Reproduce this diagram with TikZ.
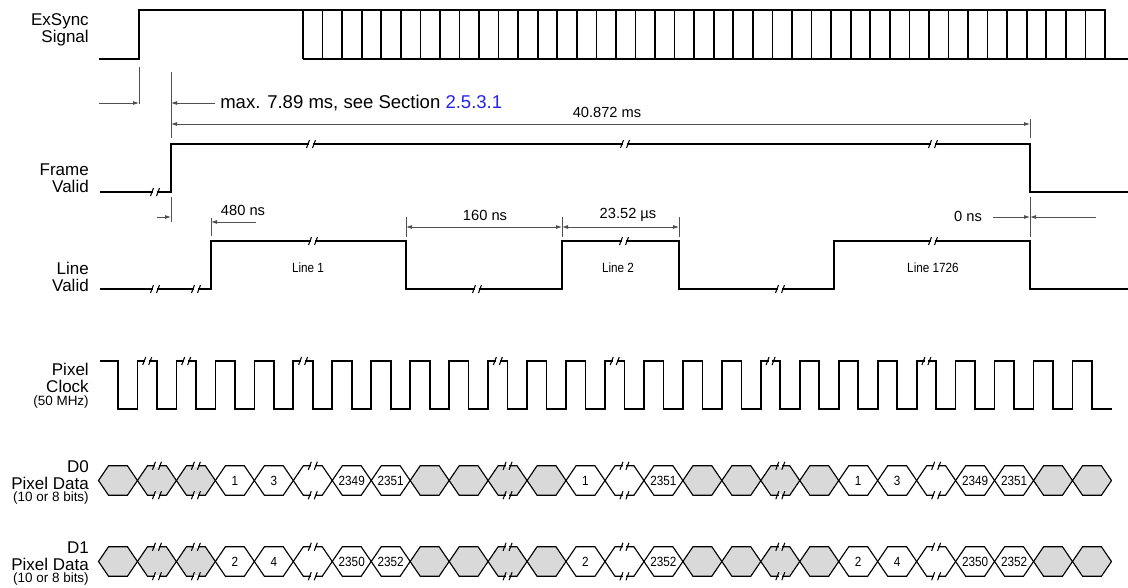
\documentclass[tikz,border=0pt]{standalone}
\usepackage{fontspec}
\setmainfont{Liberation Sans}
\newfontfamily\narrowfont[FakeStretch=0.88]{Liberation Sans}
\usetikzlibrary{arrows.meta}
\definecolor{cellgray}{RGB}{217,217,217}
\definecolor{dimgray}{RGB}{80,80,80}
\definecolor{linkblue}{RGB}{35,35,240}
\tikzset{
  sig/.style={line width=1.25pt, line join=miter},
  hex/.style={line width=0.85pt, line join=miter},
  dim/.style={line width=0.6pt, dimgray},
  dimarr/.style={dim, -{Latex[length=4.5pt,width=3pt]}},
  dimboth/.style={dim, {Latex[length=4.5pt,width=3pt]}-{Latex[length=4.5pt,width=3pt]}},
  lbl/.style={anchor=east, align=right, inner sep=0pt, font=\fontsize{12.75}{12.75}\selectfont},
  sublbl/.style={anchor=east, inner sep=0pt, font=\fontsize{10.1}{11}\selectfont},
  note/.style={inner sep=0pt, font=\fontsize{11}{13}\selectfont},
  tag/.style={inner sep=0pt, font=\narrowfont\fontsize{10}{12}\selectfont},
  brk/.pic={
    \fill[white] (-1.8,-1) rectangle (1.8,1);
    \draw[line width=0.8pt] (-4.5,4) -- (-1.5,-4) (1.5,4) -- (4.5,-4);
  }
}
\begin{document}
\begin{tikzpicture}[x=0.75pt,y=-0.75pt]
\useasboundingbox (0,0) rectangle (1128,587);
% signal names
\node[lbl] (exs) at (89,29.5) {ExSync\\Signal};
\node[lbl] (fv) at (89,178) {Frame\\Valid};
\node[lbl] (lv) at (89,277) {Line\\Valid};
\node[lbl] (pc) at (89,378) {Pixel\\Clock};
\node[sublbl] (pcs) at (89,402) {(50 MHz)};
\node[lbl] (dz) at (89,475.5) {D0\\Pixel Data};
\node[sublbl] (dzs) at (89,498.5) {(10 or 8 bits)};
\node[lbl] (do) at (89,556.5) {D1\\Pixel Data};
\node[sublbl] (dos) at (89,579.5) {(10 or 8 bits)};

% ExSync
\draw[sig] (99,59) -- (139,59) -- (139,10) -- (1105,10) -- (1105,59) -- (1128,59);
\draw[sig] (303,59) -- (1105,59);
\foreach \n in {0,...,40}
  \draw[sig] ({303+19.56*\n},10) -- ++(0,49);

% Frame Valid
\draw[sig] (100,192) -- (171,192) -- (171,144) -- (1030,144) -- (1030,192) -- (1128,192);
\foreach \x/\y in {155/192, 311/144, 625/144, 933/144}
  \pic at (\x,\y) {brk};

% Line Valid
\draw[sig] (100,289) -- (211,289) -- (211,241) -- (406,241) -- (406,289)
  -- (562,289) -- (562,241) -- (679,241) -- (679,289)
  -- (834,289) -- (834,241) -- (1030,241) -- (1030,289) -- (1128,289);
\foreach \x/\y in {155/289, 196/289, 313/241, 477/289, 624/241, 780/289, 933/241}
  \pic at (\x,\y) {brk};
\node[tag] (ln1) at (308,268) {Line 1};
\node[tag] (ln2) at (618,268) {Line 2};
\node[tag] (lnz) at (933,268) {Line 1726};

% Pixel Clock
\draw[sig] (100,361) \foreach \k in {0,...,24} {
    -- ({118+38.96*\k},361) -- ({118+38.96*\k},409)
    -- ({137.48+38.96*\k},409) -- ({137.48+38.96*\k},361) }
  -- (1092,361) -- (1092,409) -- (1112,409);
\foreach \k in {1,3,9,19,25,33,41}
  \pic at ({127.74+19.48*\k},361) {brk};

% Pixel Data D0 / D1
\foreach \i/\fl/\br/\numa/\numb in {
    0/cellgray/0/{}/{}, 1/cellgray/1/{}/{}, 2/cellgray/1/{}/{}, 3/white/0/1/2,
    4/white/0/3/4, 5/white/1/{}/{}, 6/white/0/2349/2350, 7/white/0/2351/2352,
    8/cellgray/0/{}/{}, 9/cellgray/0/{}/{}, 10/cellgray/1/{}/{}, 11/cellgray/0/{}/{},
    12/white/0/1/2, 13/white/1/{}/{}, 14/white/0/2351/2352, 15/cellgray/0/{}/{},
    16/cellgray/0/{}/{}, 17/cellgray/1/{}/{}, 18/cellgray/0/{}/{}, 19/white/0/1/2,
    20/white/0/3/4, 21/white/1/{}/{}, 22/white/0/2349/2350, 23/white/0/2351/2352,
    24/cellgray/0/{}/{}, 25/cellgray/0/{}/{}} {
  \pgfmathsetmacro\xa{98.5+38.96*\i}
  \pgfmathsetmacro\xc{\xa+19.48}
  \foreach \yy/\txt/\row in {480.5/\numa/0, 561.5/\numb/1} {
    \filldraw[hex, fill=\fl] (\xa,\yy) -- (\xa+10,\yy-14.7) -- (\xa+28.96,\yy-14.7)
      -- (\xa+38.96,\yy) -- (\xa+28.96,\yy+14.7) -- (\xa+10,\yy+14.7) -- cycle;
    \node[tag] (px\row-\i) at (\xc,\yy) {\txt};
    \ifnum\br=1
      \pic at (\xc,\yy-14.7) {brk};
      \pic at (\xc,\yy+14.7) {brk};
    \fi
  }
}

% timing dimensions
\draw[dim] (139,67) -- (139,104);
\draw[dim] (171,72) -- (171,138);
\draw[dim] (1030,119) -- (1030,138);
\draw[dim] (171,197) -- (171,222);
\draw[dim] (211,218) -- (211,236);
\draw[dim] (406,217) -- (406,237);
\draw[dim] (562,217) -- (562,237);
\draw[dim] (679,217) -- (679,237);
\draw[dim] (1030,197) -- (1030,237);

\coordinate (exa) at (99,103);    \coordinate (exb) at (139,103);
\coordinate (mxa) at (215,103);   \coordinate (mxb) at (171,103);
\coordinate (fra) at (171,124);   \coordinate (frb) at (1030,124);
\coordinate (fla) at (157,217);   \coordinate (flb) at (171,217);
\coordinate (lna) at (256,222);   \coordinate (lnb) at (211,222);
\coordinate (gpa) at (406,227);   \coordinate (gpb) at (562,227);
\coordinate (gpc) at (679,227);
\coordinate (ena) at (993,217);   \coordinate (enb) at (1030,217);
\coordinate (enc) at (1096,217);

\draw[dimarr] (exa) -- (exb);
\draw[dimarr] (mxa) -- (mxb);
\draw[dimboth] (fra) -- (frb);
\draw[dimarr] (fla) -- (flb);
\draw[dimarr] (lna) -- (lnb);
\draw[dimboth] (gpa) -- (gpb);
\draw[dimboth] (gpb) -- (gpc);
\draw[dimarr] (ena) -- (enb);
\draw[dimarr] (enc) -- (enb);

\node[inner sep=0pt, anchor=west, font=\fontsize{13.9}{15}\selectfont] (mxt) at (220,103)
  {max. 7.89 ms, see Section \textcolor{linkblue}{2.5.3.1}};
\node[note] (frt) at (607,112) {40.872 ms};
\node[note] (lnt) at (243,210) {480 ns};
\node[note] (gpt) at (485,215) {160 ns};
\node[note] (lwt) at (628,215) {23.52 µs};
\node[note] (ent) at (968,216) {0 ns};
\end{tikzpicture}
\end{document}
